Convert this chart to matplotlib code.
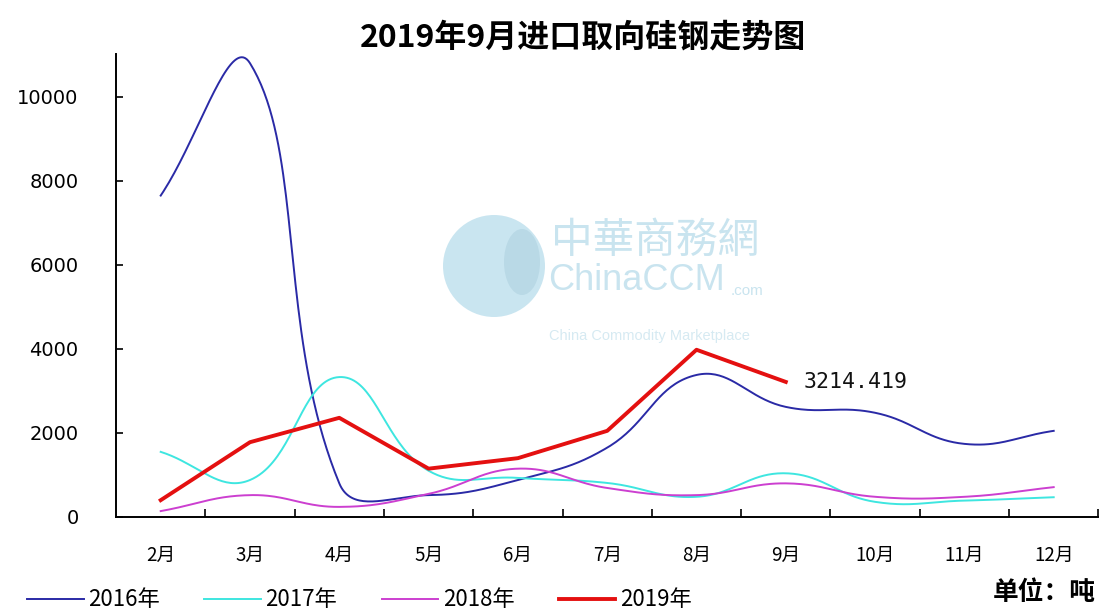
import numpy as np
import matplotlib
matplotlib.use("Agg")
import matplotlib.pyplot as plt
from matplotlib.lines import Line2D
from matplotlib.patches import Ellipse

CJK = ["Noto Sans CJK SC", "DejaVu Sans"]
plt.rcParams["font.family"] = CJK

# ── Data ──────────────────────────────────────────────────────────────────────
months = ["2月", "3月", "4月", "5月", "6月", "7月", "8月", "9月", "10月", "11月", "12月"]
y2016 = [7650, 10800, 800, 520, 880, 1650, 3380, 2620, 2480, 1740, 2050]
y2017 = [1550, 880, 3330, 1100, 930, 810, 480, 1040, 360, 390, 470]
y2018 = [140, 520, 240, 550, 1150, 690, 520, 800, 480, 480, 710]
y2019 = [400, 1780, 2360, 1150, 1400, 2050, 3980, 3214.419]
last_label = "3214.419"

title = "2019年9月进口取向硅钢走势图"
unit = "单位：吨"

C = {"2016": "#2a2aa6", "2017": "#3ee6e0", "2018": "#cc3fd0", "2019": "#e41010"}

# pixel scale of the plot area, used so the smoothing behaves like the original
PX_X, PX_Y = 89.5, 1 / 23.8


def smooth(xs, ys, f=0.42, n=40):
    # Bezier smoothing with chord-length weighted tangents (spreadsheet-like)
    p = np.column_stack([np.asarray(xs, float) * PX_X, np.asarray(ys, float) * PX_Y])
    ext = np.vstack([p[0], p, p[-1]])
    out = []
    t = np.linspace(0, 1, n, endpoint=False)[:, None]
    for i in range(1, len(ext) - 2):
        p0, p1, p2, p3 = ext[i - 1], ext[i], ext[i + 1], ext[i + 2]
        d01 = np.hypot(*(p1 - p0))
        d12 = np.hypot(*(p2 - p1))
        d23 = np.hypot(*(p3 - p2))
        c1 = p1 + (p2 - p0) * f * d12 / (d01 + d12)
        c2 = p2 - (p3 - p1) * f * d12 / (d12 + d23)
        out.append((1 - t) ** 3 * p1 + 3 * (1 - t) ** 2 * t * c1 + 3 * (1 - t) * t ** 2 * c2 + t ** 3 * p2)
    out.append(p[-1][None, :])
    out = np.vstack(out)
    return out[:, 0] / PX_X, out[:, 1] / PX_Y


# ── Plot ──────────────────────────────────────────────────────────────────────
fig = plt.figure(figsize=(11, 6.1), dpi=100, facecolor="white")
ax = fig.add_axes([0.1055, 0.1525, 0.893, 0.759])

# faint ChinaCCM watermark
ax.add_patch(Ellipse((494 / 1100, 1 - 266 / 610), 102 / 1100, 102 / 610, transform=fig.transFigure,
                     facecolor="#c9e5f0", edgecolor="none", zorder=0, clip_on=False))
ax.add_patch(Ellipse((522 / 1100, 1 - 262 / 610), 36 / 1100, 66 / 610, transform=fig.transFigure,
                     facecolor="#b9d9e6", edgecolor="none", zorder=0, clip_on=False))
fig.text(655 / 1100, 1 - 241 / 610, "中華商務網", fontsize=30, color="#c9e4ef", ha="center",
         va="center", zorder=0)
fig.text(548 / 1100, 1 - 281 / 610, "ChinaCCM", fontsize=26, color="#c9e4ef", ha="left",
         va="center", family="Liberation Sans", zorder=0)
fig.text(731 / 1100, 1 - 291 / 610, ".com", fontsize=11, color="#c9e4ef", ha="left",
         va="center", family="Liberation Sans", zorder=0)
fig.text(549 / 1100, 1 - 336 / 610, "China Commodity Marketplace", fontsize=10.5, color="#d6eaf2",
         ha="left", va="center", family="Liberation Sans", zorder=0)
ax.patch.set_alpha(0)

x = np.arange(len(months))
for ys, key in ((y2016, "2016"), (y2017, "2017"), (y2018, "2018")):
    sx, sy = smooth(x[:len(ys)], ys)
    ax.plot(sx, sy, color=C[key], lw=1.4, zorder=2)
x19 = x[:len(y2019)]
ax.plot(x19, y2019, color=C["2019"], lw=2.8, zorder=3)
ax.text(x19[-1] + 0.2, y2019[-1], last_label, fontsize=15.5, va="center", ha="left",
        family="DejaVu Sans Mono", color="#111111")

ax.set_xlim(-0.5, len(months) - 0.5)
ax.set_ylim(0, 11020)
ax.set_yticks([0, 2000, 4000, 6000, 8000, 10000])
ax.set_xticks(x)
ax.set_xticklabels(months)
ax.set_xticks(np.arange(0.5, len(months), 1.0), minor=True)
ax.tick_params(axis="x", which="major", length=0, pad=20, labelsize=13.5)
ax.tick_params(axis="x", which="minor", direction="in", length=6, width=1.2)
ax.tick_params(axis="y", direction="in", length=5, width=1.2, pad=27, labelsize=14)
for lab in ax.get_yticklabels():
    lab.set_family("DejaVu Sans")
for sp in ["top", "right"]:
    ax.spines[sp].set_visible(False)
for sp in ["left", "bottom"]:
    ax.spines[sp].set_linewidth(1.4)

fig.text(0.53, 0.938, title, fontsize=23, fontweight="bold", ha="center", va="center")
fig.text(0.996, 1 - 593 / 610, unit, fontsize=18.5, fontweight="bold", ha="right", va="center")

handles = [Line2D([], [], color=C["2016"], lw=1.4),
           Line2D([], [], color=C["2017"], lw=1.4),
           Line2D([], [], color=C["2018"], lw=1.4),
           Line2D([], [], color=C["2019"], lw=2.8)]
fig.legend(handles, ["2016年", "2017年", "2018年", "2019年"], loc="center left",
           bbox_to_anchor=(27 / 1100, 1 - 600 / 610), ncol=4, frameon=False, fontsize=16,
           handlelength=2.55, handletextpad=0.2, columnspacing=2.0,
           borderpad=0, borderaxespad=0)

fig.savefig("out.png", dpi=100, facecolor="white")
